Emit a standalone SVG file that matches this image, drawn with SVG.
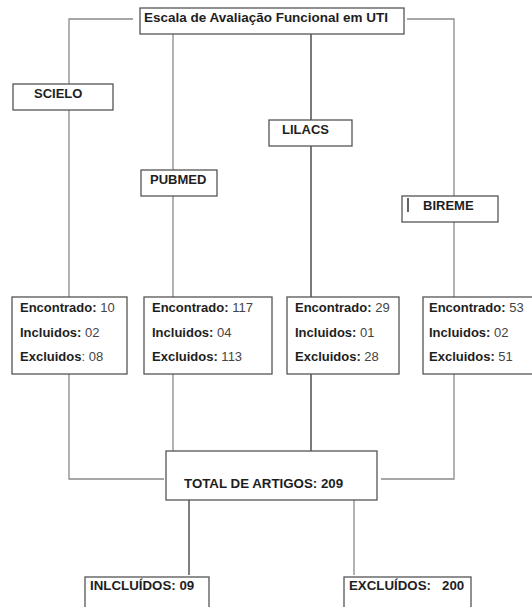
<svg xmlns="http://www.w3.org/2000/svg" width="532" height="607" viewBox="0 0 532 607">
<style>
.box{fill:#fff;stroke:#555;stroke-width:1.3}
.ln{fill:none;stroke:#8a8a8a;stroke-width:1.3}
.dk{fill:none;stroke:#333;stroke-width:1.3}
.md{fill:none;stroke:#555;stroke-width:1.5}
text{font-family:"Liberation Sans",Arial,sans-serif;fill:#1e1e1e}
.b{font-weight:bold}
.t{font-size:13px}
.n{font-weight:normal;fill:#444}
</style>
<rect width="532" height="607" fill="#fff"/>
<g id="connectors">
<path class="ln" d="M133,19 H69 V84"/>
<path class="ln" d="M69,110 V297"/>
<path class="ln" d="M69,374 V479 H164"/>
<path class="ln" d="M173,34 V170"/>
<path class="ln" d="M173,196 V297"/>
<path class="ln" d="M173,374 V451"/>
<path class="dk" d="M311,34 V120"/>
<path class="dk" d="M311,146 V297"/>
<path class="dk" d="M311,374 V451"/>
<path class="ln" d="M407,19 H454 V196"/>
<path class="ln" d="M454,222 V297"/>
<path class="ln" d="M454,374 V479 H381"/>
<path class="md" d="M189,500 V575"/>
<path class="ln" d="M354,500 V575"/>
</g>
<g id="title">
<rect class="box" x="140" y="8" width="264" height="26"/>
<text class="b" x="144" y="22" font-size="12.5" textLength="244" lengthAdjust="spacingAndGlyphs">Escala de Avaliação Funcional em UTI</text>
</g>
<g id="scielo">
<rect class="box" x="13" y="84" width="100" height="26"/>
<text class="b t" x="34" y="98">SCIELO</text>
</g>
<g id="pubmed">
<rect class="box" x="141" y="170" width="76" height="26"/>
<text class="b t" x="150" y="184">PUBMED</text>
</g>
<g id="lilacs">
<rect class="box" x="269" y="120" width="83" height="26"/>
<text class="b t" x="282" y="134">LILACS</text>
</g>
<g id="bireme">
<rect class="box" x="402" y="196" width="96" height="26"/>
<line x1="408" y1="198" x2="408" y2="212" stroke="#222" stroke-width="1.4"/>
<text class="b t" x="423" y="210">BIREME</text>
</g>
<g id="res-scielo">
<rect class="box" x="12" y="297" width="115" height="77"/>
<text class="b t" x="20" y="312">Encontrado:<tspan class="n"> 10</tspan></text>
<text class="b t" x="20" y="337">Incluidos:<tspan class="n"> 02</tspan></text>
<text class="b t" x="20" y="361">Excluidos<tspan class="n">: 08</tspan></text>
</g>
<g id="res-pubmed">
<rect class="box" x="144" y="297" width="128" height="77"/>
<text class="b t" x="152" y="312">Encontrado:<tspan class="n"> 117</tspan></text>
<text class="b t" x="152" y="337">Incluidos:<tspan class="n"> 04</tspan></text>
<text class="b t" x="152" y="361">Excluidos:<tspan class="n"> 113</tspan></text>
</g>
<g id="res-lilacs">
<rect class="box" x="287" y="297" width="112" height="77"/>
<text class="b t" x="295" y="312">Encontrado:<tspan class="n"> 29</tspan></text>
<text class="b t" x="295" y="337">Incluidos:<tspan class="n"> 01</tspan></text>
<text class="b t" x="295" y="361">Excluidos:<tspan class="n"> 28</tspan></text>
</g>
<g id="res-bireme">
<rect class="box" x="423" y="297" width="120" height="77"/>
<text class="b t" x="429" y="312">Encontrado:<tspan class="n"> 53</tspan></text>
<text class="b t" x="429" y="337">Incluidos:<tspan class="n"> 02</tspan></text>
<text class="b t" x="429" y="361">Excluidos:<tspan class="n"> 51</tspan></text>
</g>
<g id="total">
<rect class="box" x="166" y="451" width="211" height="49"/>
<text class="b" x="184" y="488" font-size="13.3">TOTAL DE ARTIGOS: 209</text>
</g>
<g id="incluidos">
<rect class="box" x="85" y="577" width="124" height="40"/>
<text class="b" x="90" y="590" font-size="13.3">INLCLUÍDOS: 09</text>
</g>
<g id="excluidos">
<rect class="box" x="344" y="577" width="127" height="40"/>
<text class="b" x="349" y="590" font-size="13.3" xml:space="preserve">EXCLUÍDOS:   200</text>
</g>
</svg>
